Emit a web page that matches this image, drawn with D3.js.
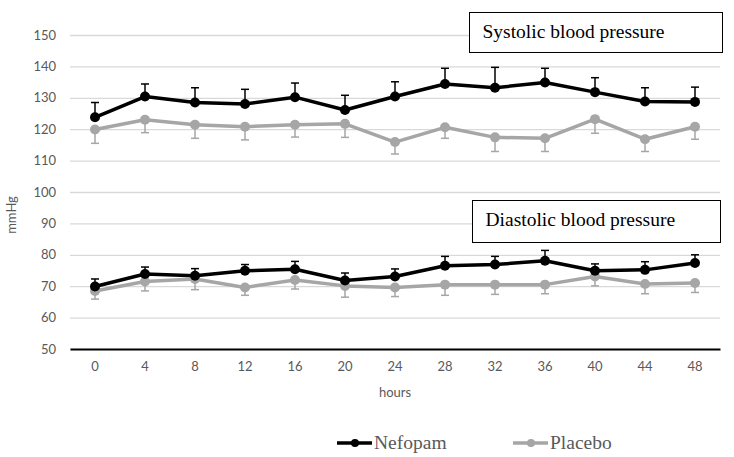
<!DOCTYPE html>
<html>
<head>
<meta charset="utf-8">
<script src="https://cdn.jsdelivr.net/npm/d3@7"></script>
<style>
  body { margin: 0; background: #fff; }
  .tick text { font-family: Lato, "Open Sans", sans-serif; font-size: 13px; fill: #595959; }
  .serif { font-family: "Liberation Serif", "DejaVu Serif", serif; }
</style>
</head>
<body>
<div id="chart"></div>
<script>
// blood pressure over 48 hours

var hours = [0, 4, 8, 12, 16, 20, 24, 28, 32, 36, 40, 44, 48];
var yTicks = [50, 60, 70, 80, 90, 100, 110, 120, 130, 140, 150];

// systolic
var sysNefopam    = [123.8, 130.4, 128.5, 128.0, 130.2, 126.1, 130.4, 134.4, 133.2, 134.9, 131.8, 128.8, 128.7];
var sysNefopamSd  = [4.7, 4.0, 4.7, 4.7, 4.5, 4.7, 4.7, 5.0, 6.5, 4.5, 4.6, 4.4, 4.7];
var sysPlacebo    = [119.9, 123.0, 121.4, 120.8, 121.4, 121.7, 115.9, 120.6, 117.4, 117.1, 123.2, 116.8, 120.8];
var sysPlaceboSd  = [4.4, 4.1, 4.3, 4.2, 3.9, 4.3, 3.8, 3.5, 4.5, 4.2, 4.5, 3.9, 4.0];

// diastolic
var diaNefopam    = [69.9, 73.9, 73.3, 74.9, 75.4, 71.8, 73.1, 76.5, 76.9, 78.1, 74.9, 75.2, 77.4];
var diaNefopamSd  = [2.4, 2.2, 2.3, 2.0, 2.5, 2.4, 2.4, 3.0, 2.6, 3.3, 2.2, 2.6, 2.6];
var diaPlacebo    = [68.5, 71.5, 72.3, 69.6, 72.0, 70.1, 69.6, 70.5, 70.5, 70.5, 73.1, 70.7, 71.0];
var diaPlaceboSd  = [2.6, 3.0, 3.4, 2.5, 2.9, 3.6, 2.9, 3.4, 3.1, 2.9, 3.0, 3.1, 3.0];

var svgWidth = 734;
var svgHeight = 457;

var margin = { top: 35, right: 14, bottom: 108, left: 70 };
var width = svgWidth - margin.left - margin.right;
var height = svgHeight - margin.top - margin.bottom;

var svg = d3.select("#chart")
    .append("svg")
    .attr("width", svgWidth)
    .attr("height", svgHeight);

var chartGroup = svg.append("g")
    .attr("transform", `translate(${margin.left}, ${margin.top})`);

var xScale = d3.scaleBand()
    .domain(hours)
    .range([0, width]);

var yScale = d3.scaleLinear()
    .domain([50, 150])
    .range([height, 0]);

var cx = d => xScale(d) + xScale.bandwidth() / 2;

// gridlines + y labels
var leftAxis = d3.axisLeft(yScale)
    .tickValues(yTicks)
    .tickSize(-width)
    .tickPadding(14);

var yAxis = chartGroup.append("g").call(leftAxis);
yAxis.select(".domain").remove();
yAxis.selectAll(".tick line").attr("stroke", "#d9d9d9").attr("stroke-width", 1.3);

// x axis
var bottomAxis = d3.axisBottom(xScale).tickSize(0).tickPadding(13);
var xAxis = chartGroup.append("g")
    .attr("transform", `translate(0, ${height})`)
    .call(bottomAxis);
xAxis.select(".domain").attr("stroke", "#000").attr("stroke-width", 2);

// axis titles
chartGroup.append("text")
    .attr("x", width / 2)
    .attr("y", height + 48)
    .attr("text-anchor", "middle")
    .style("font-family", "Lato, 'Open Sans', sans-serif")
    .style("font-size", "13px")
    .style("fill", "#595959")
    .text("hours");

svg.append("text")
    .attr("transform", "translate(16, 215) rotate(-90)")
    .attr("text-anchor", "middle")
    .style("font-family", "Lato, 'Open Sans', sans-serif")
    .style("font-size", "13px")
    .style("fill", "#595959")
    .text("mmHg");

// one series: error bars, line, markers
function drawSeries(values, sd, colour, dir) {
    var g = chartGroup.append("g");

    g.selectAll(".err")
        .data(values)
        .enter()
        .append("line")
        .attr("x1", (d, i) => cx(hours[i]))
        .attr("x2", (d, i) => cx(hours[i]))
        .attr("y1", d => yScale(d))
        .attr("y2", (d, i) => yScale(d + dir * sd[i]))
        .attr("stroke", colour)
        .attr("stroke-width", 1.5);

    g.selectAll(".cap")
        .data(values)
        .enter()
        .append("line")
        .attr("x1", (d, i) => cx(hours[i]) - 4)
        .attr("x2", (d, i) => cx(hours[i]) + 4)
        .attr("y1", (d, i) => yScale(d + dir * sd[i]))
        .attr("y2", (d, i) => yScale(d + dir * sd[i]))
        .attr("stroke", colour)
        .attr("stroke-width", 1.5);

    var line = d3.line()
        .x((d, i) => cx(hours[i]))
        .y(d => yScale(d));

    g.append("path")
        .datum(values)
        .attr("d", line)
        .attr("fill", "none")
        .attr("stroke", colour)
        .attr("stroke-width", 3.5)
        .attr("stroke-linejoin", "round");

    g.selectAll("circle")
        .data(values)
        .enter()
        .append("circle")
        .attr("cx", (d, i) => cx(hours[i]))
        .attr("cy", d => yScale(d))
        .attr("r", 5)
        .attr("fill", colour);
}

var black = "#000000";
var grey = "#a6a6a6";

drawSeries(sysPlacebo, sysPlaceboSd, grey, -1);
drawSeries(sysNefopam, sysNefopamSd, black, 1);
drawSeries(diaPlacebo, diaPlaceboSd, grey, -1);
drawSeries(diaNefopam, diaNefopamSd, black, 1);

// title boxes
function titleBox(x, y, w, h, label) {
    svg.append("rect")
        .attr("x", x).attr("y", y)
        .attr("width", w).attr("height", h)
        .attr("fill", "#fff")
        .attr("stroke", "#000")
        .attr("stroke-width", 1);
    svg.append("text")
        .classed("serif", true)
        .attr("x", x + 13)
        .attr("y", y + 25)
        .style("font-size", "19.5px")
        .style("fill", "#000")
        .text(label);
}

titleBox(469.5, 12.5, 253, 40, "Systolic blood pressure");
titleBox(472.5, 200.5, 248, 42, "Diastolic blood pressure");

// legend
var legendItems = [
    { name: "Nefopam", colour: black, x: 337 },
    { name: "Placebo", colour: grey, x: 513 }
];

var legend = svg.selectAll(".legend")
    .data(legendItems)
    .enter()
    .append("g")
    .attr("transform", d => `translate(${d.x}, 443)`);

legend.append("line")
    .attr("x1", 0).attr("x2", 35)
    .attr("y1", 0).attr("y2", 0)
    .attr("stroke", d => d.colour)
    .attr("stroke-width", 3.5);

legend.append("circle")
    .attr("cx", 18).attr("cy", 0).attr("r", 4)
    .attr("fill", d => d.colour);

legend.append("text")
    .classed("serif", true)
    .attr("x", 37)
    .attr("y", 6)
    .style("font-size", "19.5px")
    .style("fill", "#595959")
    .text(d => d.name);
</script>
</body>
</html>
